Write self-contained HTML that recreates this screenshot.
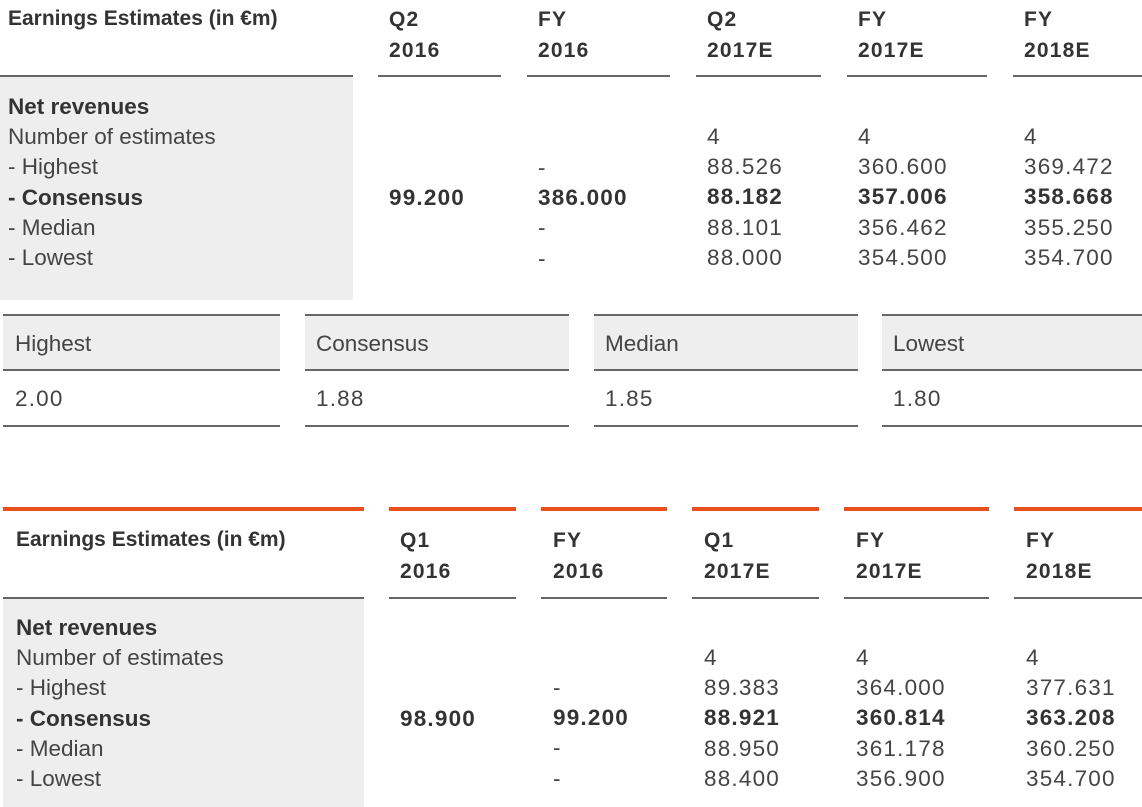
<!DOCTYPE html>
<html><head><meta charset="utf-8"><style>
body{margin:0;width:1142px;height:807px;background:#fff;position:relative;overflow:hidden;font-family:"Liberation Sans",sans-serif;color:#444;}
div{position:absolute;box-sizing:border-box;}
.h{font-weight:bold;font-size:21px;line-height:31px;color:#333;}
.n{letter-spacing:1.2px;}
.t{font-size:22.5px;line-height:30.2px;white-space:pre;}
.b{font-weight:bold;color:#333;}
.ln{height:2px;background:#666;}
.or{height:4px;background:#e8501e;}
.g{background:#eeeeee;}
</style></head><body>
<!-- Top table -->
<div class="h" style="left:8px;top:3px;">Earnings Estimates (in €m)</div>
<div class="h n" style="left:389px;top:4px;">Q2<br>2016</div>
<div class="h n" style="left:538px;top:4px;">FY<br>2016</div>
<div class="h n" style="left:707px;top:4px;">Q2<br>2017E</div>
<div class="h n" style="left:858px;top:4px;">FY<br>2017E</div>
<div class="h n" style="left:1024px;top:4px;">FY<br>2018E</div>
<div class="ln" style="left:0;top:75px;width:353px;"></div>
<div class="ln" style="left:378px;top:75px;width:123px;"></div>
<div class="ln" style="left:527px;top:75px;width:143px;"></div>
<div class="ln" style="left:696px;top:75px;width:125px;"></div>
<div class="ln" style="left:847px;top:75px;width:140px;"></div>
<div class="ln" style="left:1013px;top:75px;width:129px;"></div>
<div class="g" style="left:0;top:77px;width:353px;height:223px;"></div>
<div class="t" style="left:8px;top:92px;"><span class="b">Net revenues</span>
Number of estimates
- Highest
<span class="b">- Consensus</span>
- Median
- Lowest</div>
<div class="t b n" style="left:389px;top:183px;">99.200</div>
<div class="t n" style="left:538px;top:153px;">-
<span class="b">386.000</span>
-
-</div>
<div class="t n" style="left:707px;top:122px;">4
88.526
<span class="b">88.182</span>
88.101
88.000</div>
<div class="t n" style="left:858px;top:122px;">4
360.600
<span class="b">357.006</span>
356.462
354.500</div>
<div class="t n" style="left:1024px;top:122px;">4
369.472
<span class="b">358.668</span>
355.250
354.700</div>

<!-- Middle boxes -->
<div class="g" style="left:3px;top:316px;width:277px;height:54px;"></div>
<div class="g" style="left:305px;top:316px;width:264px;height:54px;"></div>
<div class="g" style="left:594px;top:316px;width:264px;height:54px;"></div>
<div class="g" style="left:882px;top:316px;width:260px;height:54px;"></div>
<div class="ln" style="left:3px;top:314px;width:277px;"></div>
<div class="ln" style="left:305px;top:314px;width:264px;"></div>
<div class="ln" style="left:594px;top:314px;width:264px;"></div>
<div class="ln" style="left:882px;top:314px;width:260px;"></div>
<div class="ln" style="left:3px;top:369px;width:277px;"></div>
<div class="ln" style="left:305px;top:369px;width:264px;"></div>
<div class="ln" style="left:594px;top:369px;width:264px;"></div>
<div class="ln" style="left:882px;top:369px;width:260px;"></div>
<div class="ln" style="left:3px;top:425px;width:277px;"></div>
<div class="ln" style="left:305px;top:425px;width:264px;"></div>
<div class="ln" style="left:594px;top:425px;width:264px;"></div>
<div class="ln" style="left:882px;top:425px;width:260px;"></div>
<div class="t" style="left:15px;top:329px;">Highest</div>
<div class="t" style="left:316px;top:329px;">Consensus</div>
<div class="t" style="left:605px;top:329px;">Median</div>
<div class="t" style="left:893px;top:329px;">Lowest</div>
<div class="t n" style="left:15px;top:384px;">2.00</div>
<div class="t n" style="left:316px;top:384px;">1.88</div>
<div class="t n" style="left:605px;top:384px;">1.85</div>
<div class="t n" style="left:893px;top:384px;">1.80</div>

<!-- Bottom table -->
<div class="or" style="left:3px;top:507px;width:361px;"></div>
<div class="or" style="left:389px;top:507px;width:127px;"></div>
<div class="or" style="left:541px;top:507px;width:126px;"></div>
<div class="or" style="left:692px;top:507px;width:127px;"></div>
<div class="or" style="left:844px;top:507px;width:145px;"></div>
<div class="or" style="left:1014px;top:507px;width:128px;"></div>
<div class="h" style="left:16px;top:524px;">Earnings Estimates (in €m)</div>
<div class="h n" style="left:400px;top:525px;">Q1<br>2016</div>
<div class="h n" style="left:553px;top:525px;">FY<br>2016</div>
<div class="h n" style="left:704px;top:525px;">Q1<br>2017E</div>
<div class="h n" style="left:856px;top:525px;">FY<br>2017E</div>
<div class="h n" style="left:1026px;top:525px;">FY<br>2018E</div>
<div class="ln" style="left:3px;top:597px;width:361px;"></div>
<div class="ln" style="left:389px;top:597px;width:127px;"></div>
<div class="ln" style="left:541px;top:597px;width:126px;"></div>
<div class="ln" style="left:692px;top:597px;width:127px;"></div>
<div class="ln" style="left:844px;top:597px;width:145px;"></div>
<div class="ln" style="left:1014px;top:597px;width:128px;"></div>
<div class="g" style="left:3px;top:599px;width:361px;height:208px;"></div>
<div class="t" style="left:16px;top:613px;"><span class="b">Net revenues</span>
Number of estimates
- Highest
<span class="b">- Consensus</span>
- Median
- Lowest</div>
<div class="t b n" style="left:400px;top:704px;">98.900</div>
<div class="t n" style="left:553px;top:673px;">-
<span class="b">99.200</span>
-
-</div>
<div class="t n" style="left:704px;top:643px;">4
89.383
<span class="b">88.921</span>
88.950
88.400</div>
<div class="t n" style="left:856px;top:643px;">4
364.000
<span class="b">360.814</span>
361.178
356.900</div>
<div class="t n" style="left:1026px;top:643px;">4
377.631
<span class="b">363.208</span>
360.250
354.700</div>
</body></html>
